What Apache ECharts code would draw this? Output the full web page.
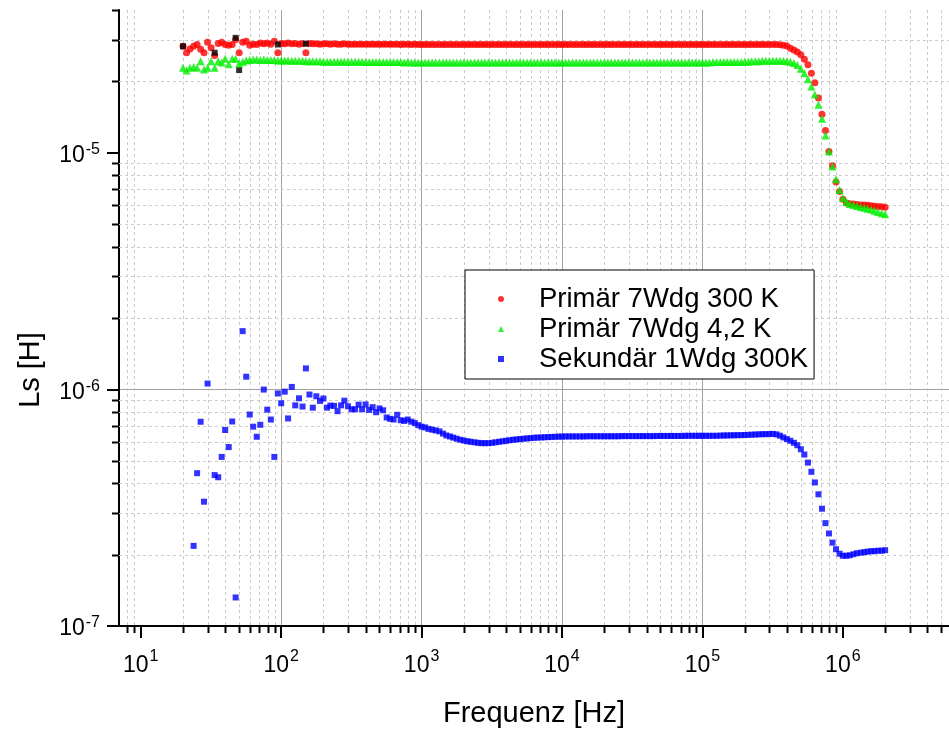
<!DOCTYPE html>
<html>
<head>
<meta charset="utf-8">
<script src="https://cdn.jsdelivr.net/npm/echarts@6/dist/echarts.min.js"></script>
<style>
  html, body { margin: 0; padding: 0; background: #fff; }
  #main { width: 949px; height: 729px; }
</style>
</head>
<body>
<div id="main"></div>
<script>
// sweep frequencies [Hz], 20 Hz .. 2 MHz
const FREQ = [
  20, 21.2, 22.4, 23.8, 25.2, 26.7, 28.2, 29.9, 31.7, 33.6,
  35.6, 37.7, 39.9, 42.3, 44.8, 47.4, 50.2, 53.2, 56.4, 59.7,
  63.2, 67.0, 71.0, 75.2, 79.6, 84.4, 89.4, 94.7, 100, 106,
  112, 119, 126, 134, 142, 150, 159, 168, 178, 189,
  200, 212, 224, 238, 252, 267, 282, 299, 317, 336,
  356, 377, 399, 423, 448, 474, 502, 532, 564, 597,
  632, 670, 710, 752, 796, 844, 894, 947, 1000, 1060,
  1120, 1190, 1260, 1340, 1420, 1500, 1590, 1680, 1780, 1890,
  2000, 2120, 2240, 2380, 2520, 2670, 2820, 2990, 3170, 3360,
  3560, 3770, 3990, 4230, 4480, 4740, 5020, 5320, 5640, 5970,
  6320, 6700, 7100, 7520, 7960, 8440, 8940, 9470, 10000, 10600,
  11200, 11900, 12600, 13400, 14200, 15000, 15900, 16800, 17800, 18900,
  2.00e4, 2.12e4, 2.24e4, 2.38e4, 2.52e4, 2.67e4, 2.82e4, 2.99e4, 3.17e4, 3.36e4,
  3.56e4, 3.77e4, 3.99e4, 4.23e4, 4.48e4, 4.74e4, 5.02e4, 5.32e4, 5.64e4, 5.97e4,
  6.32e4, 6.70e4, 7.10e4, 7.52e4, 7.96e4, 8.44e4, 8.94e4, 9.47e4, 1.00e5, 1.06e5,
  1.12e5, 1.19e5, 1.26e5, 1.34e5, 1.42e5, 1.50e5, 1.59e5, 1.68e5, 1.78e5, 1.89e5,
  2.00e5, 2.12e5, 2.24e5, 2.38e5, 2.52e5, 2.67e5, 2.82e5, 2.99e5, 3.17e5, 3.36e5,
  3.56e5, 3.77e5, 3.99e5, 4.23e5, 4.48e5, 4.74e5, 5.02e5, 5.32e5, 5.64e5, 5.97e5,
  6.32e5, 6.70e5, 7.10e5, 7.52e5, 7.96e5, 8.44e5, 8.94e5, 9.47e5, 1.00e6, 1.06e6,
  1.12e6, 1.19e6, 1.26e6, 1.34e6, 1.42e6, 1.50e6, 1.59e6, 1.68e6, 1.78e6, 1.89e6,
  2.00e6
];

// Ls in µH
const LS_PRIM_300K = [
  28.1, 26.4, 27.4, 28.1, 28.6, 27.3, 26.4, 29.2, 27.7, 25.7,
  28.9, 29.2, 28.6, 28.4, 28.6, 30.0, 26.4, 29.2, 29.5, 28.4,
  28.7, 28.6, 29.0, 28.8, 29.0, 28.7, 29.5, 26.4, 28.9, 28.8,
  29.0, 28.8, 28.9, 28.7, 28.9, 26.4, 28.9, 28.8, 28.8, 28.7,
  28.8, 28.8, 28.7, 28.8, 28.7, 28.7, 28.8, 28.7, 28.7, 28.7,
  28.7, 28.7, 28.7, 28.7, 28.7, 28.7, 28.7, 28.7, 28.7, 28.7,
  28.7, 28.7, 28.6, 28.7, 28.7, 28.6, 28.7, 28.6, 28.6, 28.6,
  28.6, 28.6, 28.6, 28.6, 28.6, 28.6, 28.6, 28.6, 28.6, 28.6,
  28.6, 28.6, 28.6, 28.6, 28.6, 28.6, 28.6, 28.6, 28.6, 28.6,
  28.6, 28.6, 28.6, 28.6, 28.6, 28.6, 28.6, 28.6, 28.6, 28.6,
  28.6, 28.6, 28.6, 28.6, 28.6, 28.6, 28.6, 28.6, 28.6, 28.6,
  28.6, 28.6, 28.6, 28.6, 28.6, 28.6, 28.6, 28.6, 28.6, 28.6,
  28.6, 28.6, 28.6, 28.6, 28.6, 28.6, 28.6, 28.6, 28.6, 28.6,
  28.6, 28.6, 28.6, 28.6, 28.6, 28.6, 28.6, 28.6, 28.6, 28.6,
  28.6, 28.6, 28.6, 28.6, 28.6, 28.6, 28.6, 28.6, 28.6, 28.6,
  28.6, 28.6, 28.6, 28.6, 28.6, 28.6, 28.6, 28.6, 28.6, 28.6,
  28.6, 28.6, 28.6, 28.6, 28.6, 28.6, 28.6, 28.6, 28.6, 28.6,
  28.5, 28.4, 28.2, 27.6, 27.1, 26.6, 25.9, 24.8, 23.5, 21.6,
  19.7, 17.0, 14.5, 12.4, 10.1, 8.8, 7.5, 6.85, 6.35, 6.12,
  6.08, 6.06, 6.03, 6.0, 6.0, 5.99, 5.96, 5.93, 5.91, 5.9,
  5.88
];

const LS_PRIM_4K = [
  22.8, 22.2, 22.8, 23.0, 22.8, 24.3, 22.4, 22.8, 24.3, 22.8,
  24.3, 24.0, 24.9, 23.6, 24.9, 24.9, 23.8, 24.2, 24.5, 24.6,
  24.7, 24.7, 24.6, 24.7, 24.6, 24.6, 24.6, 24.5, 24.5, 24.5,
  24.5, 24.4, 24.4, 24.4, 24.4, 24.3, 24.3, 24.3, 24.3, 24.3,
  24.2, 24.2, 24.2, 24.2, 24.2, 24.2, 24.2, 24.2, 24.2, 24.2,
  24.2, 24.2, 24.1, 24.1, 24.1, 24.1, 24.1, 24.1, 24.1, 24.1,
  24.1, 24.1, 24.1, 24.0, 24.1, 24.0, 24.0, 24.0, 24.0, 24.0,
  24.0, 24.0, 24.0, 24.0, 24.0, 24.0, 24.0, 24.0, 24.0, 24.0,
  24.0, 24.0, 24.0, 24.0, 24.0, 24.0, 24.0, 24.0, 24.0, 24.0,
  24.0, 24.0, 24.0, 24.0, 24.0, 24.0, 24.0, 24.0, 24.0, 24.0,
  24.0, 24.0, 24.0, 24.0, 24.0, 24.0, 24.0, 24.0, 24.0, 24.0,
  24.0, 24.0, 24.0, 24.0, 24.0, 24.0, 24.0, 24.0, 24.0, 24.0,
  24.0, 24.0, 24.0, 24.0, 24.0, 24.0, 24.0, 24.0, 24.0, 24.0,
  24.0, 24.0, 24.0, 24.0, 24.0, 24.0, 24.0, 24.0, 24.0, 24.0,
  24.0, 24.0, 24.0, 24.0, 24.0, 24.0, 24.0, 24.0, 24.0, 24.0,
  24.0, 24.1, 24.1, 24.1, 24.1, 24.1, 24.1, 24.1, 24.1, 24.1,
  24.2, 24.2, 24.3, 24.3, 24.3, 24.4, 24.4, 24.4, 24.4, 24.4,
  24.4, 24.4, 24.3, 24.2, 23.9, 23.4, 22.6, 21.6, 20.4, 19.0,
  17.6, 15.9, 13.9, 11.8, 10.1, 8.72, 7.71, 6.95, 6.42, 6.18,
  6.06, 6.0, 5.94, 5.89, 5.85, 5.79, 5.74, 5.67, 5.61, 5.54,
  5.48
];

const LS_SEK_300K = [
  null, null, null, 0.218, 0.442, 0.729, 0.335, 1.057, null, 0.434,
  0.425, 0.518, 0.673, 0.570, 0.731, 0.132, null, 1.76, 1.13, 0.782,
  0.695, 0.630, 0.708, 0.997, 0.820, 0.745, 0.518, 0.960, 0.873, 0.977,
  0.753, 1.023, 0.855, 0.916, 0.845, 1.225, 0.950, 0.836, 0.934, 0.893,
  0.914, 0.836, 0.853, 0.851, 0.808, 0.855, 0.895, 0.848, 0.823, 0.823,
  0.861, 0.823, 0.863, 0.818, 0.840, 0.800, 0.830, 0.815, 0.760, 0.750,
  0.745, 0.780, 0.740, 0.735, 0.745, 0.730, 0.720, 0.705, 0.695, 0.690,
  0.680, 0.675, 0.670, 0.664, 0.650, 0.638, 0.632, 0.625, 0.618, 0.612,
  0.607, 0.603, 0.600, 0.597, 0.594, 0.592, 0.592, 0.592, 0.594, 0.597,
  0.600, 0.603, 0.606, 0.609, 0.612, 0.614, 0.616, 0.618, 0.620, 0.622,
  0.624, 0.625, 0.626, 0.627, 0.628, 0.629, 0.630, 0.631, 0.631, 0.632,
  0.632, 0.632, 0.632, 0.632, 0.632, 0.633, 0.633, 0.633, 0.633, 0.633,
  0.633, 0.633, 0.633, 0.633, 0.633, 0.634, 0.634, 0.634, 0.634, 0.634,
  0.634, 0.634, 0.634, 0.634, 0.634, 0.635, 0.635, 0.635, 0.635, 0.635,
  0.635, 0.635, 0.635, 0.636, 0.636, 0.636, 0.636, 0.636, 0.636, 0.636,
  0.636, 0.636, 0.636, 0.637, 0.638, 0.638, 0.639, 0.639, 0.640, 0.640,
  0.641, 0.642, 0.643, 0.644, 0.645, 0.646, 0.646, 0.647, 0.648, 0.645,
  0.637, 0.626, 0.616, 0.606, 0.594, 0.580, 0.558, 0.530, 0.490, 0.448,
  0.404, 0.360, 0.313, 0.272, 0.246, 0.225, 0.211, 0.202, 0.198, 0.198,
  0.199, 0.201, 0.203, 0.204, 0.205, 0.206, 0.207, 0.207, 0.208, 0.208,
  0.209
];

// masked points (drawn black in the original plot)
const MASKED_F = [20, 33.6, 47.4, 50.2, 94.7, 150];
const MASKED_LS = [28.1, 26.4, 30.5, 22.3, 28.6, 28.8];

const NAMES = ['Primär 7Wdg 300 K', 'Primär 7Wdg 4,2 K', 'Sekundär 1Wdg 300K'];
const X_MAJOR = [10, 100, 1e3, 1e4, 1e5, 1e6];
const Y_MAJOR = [1e-7, 1e-6, 1e-5];

const X_MIN = 7, X_MAX = 5.7e6;
const Y_MIN = 1e-7, Y_MAX = 4e-5;
const FONT = '"Liberation Sans", Arial, sans-serif';

function pairs(ls) {
  const out = [];
  FREQ.forEach(function (f, i) {
    if (ls[i] != null) out.push([f, ls[i] * 1e-6]);
  });
  return out;
}

// minor tick positions 2..9 x 10^k inside the axis range
function minorValues(lo, hi, e0, e1) {
  const out = [];
  for (let e = e0; e <= e1; e++) {
    for (let m = 2; m <= 9; m++) {
      const v = m * Math.pow(10, e);
      if (v > lo * 1.0001 && v <= hi * 1.0001) out.push(v);
    }
  }
  return out;
}
const X_MINOR = minorValues(X_MIN, X_MAX, 0, 6);
const Y_MINOR = minorValues(Y_MIN, Y_MAX, -7, -5);

function supLabel(v) {
  const e = Math.round(Math.log10(v));
  return '{b|10}{s|' + e + '}';
}

// tall line box for the base, exponent pinned to its top
const xRich = {
  b: { fontSize: 23, lineHeight: 34, fontFamily: FONT, color: '#000' },
  s: { fontSize: 16, lineHeight: 16, verticalAlign: 'top', padding: [0, 0, 0, 1], fontFamily: FONT, color: '#000' }
};
const yRich = {
  b: { fontSize: 23, lineHeight: 34, padding: [6, 0, 0, 0], fontFamily: FONT, color: '#000' },
  s: { fontSize: 16, lineHeight: 16, verticalAlign: 'top', padding: [6, 0, 0, 1], fontFamily: FONT, color: '#000' }
};

const chart = echarts.init(document.getElementById('main'));
const option = {
  animation: false,
  backgroundColor: '#fff',
  grid: { left: 119, right: 0, top: 10, bottom: 103, containLabel: false, outerBoundsMode: 'none' },
  legend: {
    data: NAMES,
    orient: 'vertical',
    left: 465,
    top: 270,
    padding: [15, 6, 6, 33],
    itemGap: 2,
    itemWidth: 6,
    itemHeight: 6,
    backgroundColor: '#fff',
    borderColor: '#000',
    borderWidth: 1,
    borderRadius: 0,
    selectedMode: false,
    textStyle: { fontSize: 27.5, lineHeight: 26, color: '#000', fontFamily: FONT, padding: [0, 0, 0, 30] }
  },
  xAxis: {
    type: 'log',
    logBase: 10,
    min: X_MIN,
    max: X_MAX,
    name: 'Frequenz [Hz]',
    nameLocation: 'middle',
    nameGap: 73,
    nameTextStyle: { fontSize: 29, color: '#000', fontFamily: FONT },
    axisLine: { lineStyle: { color: '#000', width: 2 } },
    axisTick: { customValues: X_MAJOR, length: 12, lineStyle: { color: '#000', width: 2 } },
    axisLabel: { customValues: X_MAJOR, margin: 23, formatter: supLabel, rich: xRich },
    splitLine: { show: true, showMinLine: false, showMaxLine: false, lineStyle: { color: '#a0a0a0', width: 1 } }
  },
  yAxis: {
    type: 'log',
    logBase: 10,
    min: Y_MIN,
    max: Y_MAX,
    name: 'Ls [H]',
    nameLocation: 'middle',
    nameGap: 74,
    nameTextStyle: { fontSize: 29, color: '#000', fontFamily: FONT, padding: [0, 104, 0, 0] },
    axisLine: { lineStyle: { color: '#000', width: 2 } },
    axisTick: { customValues: Y_MAJOR, length: 12, lineStyle: { color: '#000', width: 2 } },
    axisLabel: { customValues: Y_MAJOR, margin: 19, formatter: supLabel, rich: yRich },
    splitLine: { show: true, showMinLine: false, showMaxLine: false, lineStyle: { color: '#a0a0a0', width: 1 } }
  },
  series: [
    {
      type: 'custom',
      silent: true,
      z: 1,
      clip: false,
      data: X_MINOR.map(function (v) { return [v, 1e-6]; }),
      renderItem: function (params, api) {
        const cs = params.coordSys;
        const x = Math.round(api.coord([api.value(0), 1e-6])[0]) + 0.5;
        const yb = cs.y + cs.height;
        return {
          type: 'group',
          children: [
            { type: 'line', shape: { x1: x, y1: cs.y, x2: x, y2: yb }, style: { stroke: '#cccccc', lineWidth: 1, lineDash: [3, 3] } },
            { type: 'line', shape: { x1: x, y1: yb, x2: x, y2: yb + 7 }, style: { stroke: '#000', lineWidth: 2 } }
          ]
        };
      }
    },
    {
      type: 'custom',
      silent: true,
      z: 1,
      clip: false,
      data: Y_MINOR.map(function (v) { return [1000, v]; }),
      renderItem: function (params, api) {
        const cs = params.coordSys;
        const y = Math.round(api.coord([1000, api.value(1)])[1]) + 0.5;
        const showLine = api.value(1) < Y_MAX * 0.999;
        const kids = [
          { type: 'line', shape: { x1: cs.x - 7, y1: y, x2: cs.x, y2: y }, style: { stroke: '#000', lineWidth: 2 } }
        ];
        if (showLine) {
          kids.unshift({ type: 'line', shape: { x1: cs.x, y1: y, x2: cs.x + cs.width, y2: y }, style: { stroke: '#cccccc', lineWidth: 1, lineDash: [3, 3] } });
        }
        return { type: 'group', children: kids };
      }
    },
    {
      name: NAMES[0],
      type: 'scatter',
      symbol: 'circle',
      symbolSize: 7,
      itemStyle: { color: '#ff0000' },
      data: pairs(LS_PRIM_300K)
    },
    {
      name: 'masked',
      type: 'scatter',
      symbol: 'rect',
      symbolSize: 6,
      itemStyle: { color: '#000' },
      data: MASKED_F.map(function (f, i) { return [f, MASKED_LS[i] * 1e-6]; })
    },
    {
      name: NAMES[1],
      type: 'scatter',
      symbol: 'triangle',
      symbolSize: 8,
      itemStyle: { color: '#00ee00' },
      data: pairs(LS_PRIM_4K)
    },
    {
      name: NAMES[2],
      type: 'scatter',
      symbol: 'rect',
      symbolSize: 6,
      itemStyle: { color: '#0000ff' },
      data: pairs(LS_SEK_300K)
    }
  ]
};
chart.setOption(option);
</script>
</body>
</html>
